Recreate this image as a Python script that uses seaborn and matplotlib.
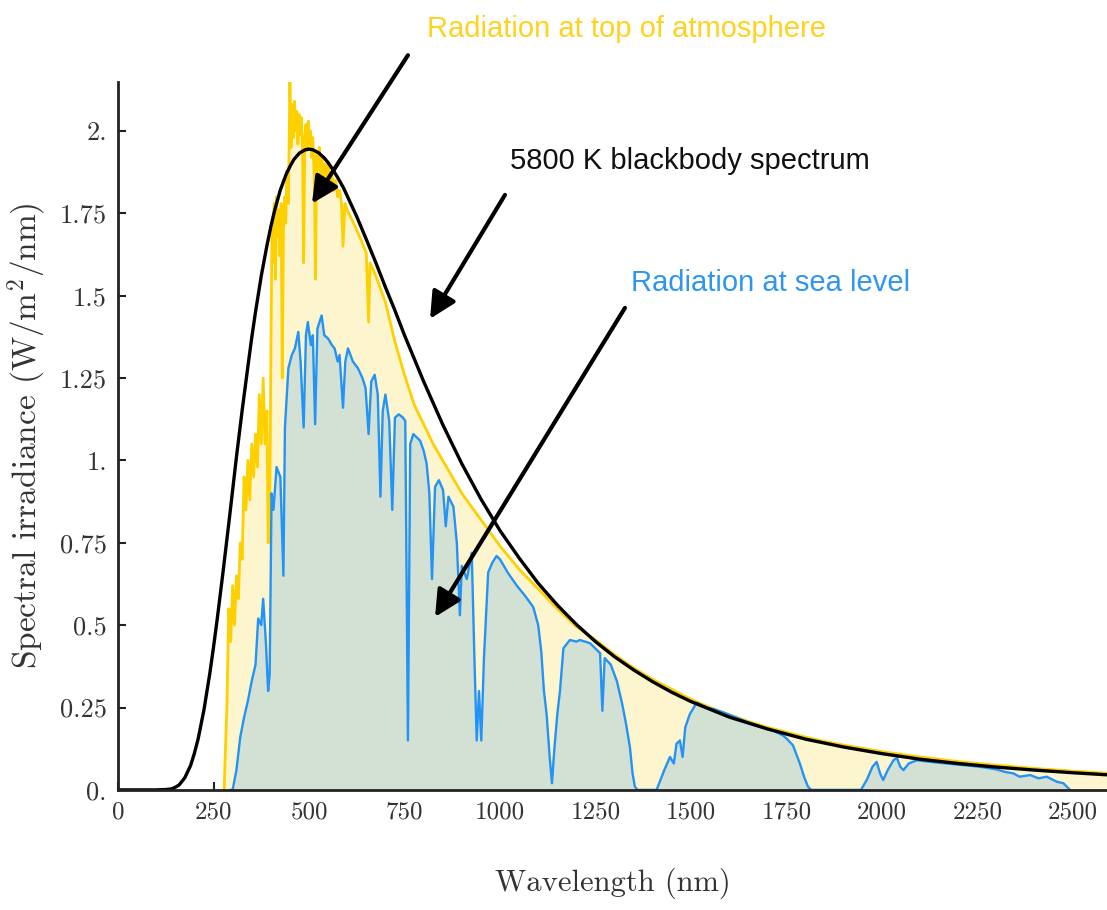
import numpy as np
import pandas as pd
import seaborn as sns
import matplotlib.pyplot as plt

sns.set_style('ticks')
plt.rcParams.update({'mathtext.fontset': 'cm', 'axes.unicode_minus': False})

# 5800 K blackbody curve
bb_wl = [0, 100, 125, 140, 150, 160, 175, 190, 200, 210, 225, 240, 250, 260, 275, 290,
         300, 310, 325, 340, 350, 360, 375, 390, 400, 410, 425, 440, 450, 460, 475, 490,
         500, 510, 525, 540, 550, 560, 575, 590, 600, 625, 650, 675, 700, 725, 750, 775,
         800, 850, 900, 950, 1000, 1050, 1100, 1150, 1200, 1250, 1300, 1350, 1400, 1450,
         1500, 1600, 1700, 1800, 1900, 2000, 2100, 2200, 2300, 2400, 2500, 2600]
bb_val = [0.0, 0.0, 0.001, 0.003, 0.008, 0.015, 0.037, 0.074, 0.111, 0.156, 0.243, 0.351,
          0.433, 0.521, 0.662, 0.809, 0.909, 1.010, 1.152, 1.285, 1.372, 1.451, 1.560,
          1.653, 1.709, 1.759, 1.821, 1.868, 1.892, 1.913, 1.933, 1.943, 1.945, 1.943,
          1.934, 1.918, 1.904, 1.887, 1.859, 1.828, 1.803, 1.740, 1.671, 1.600, 1.526,
          1.455, 1.380, 1.310, 1.240, 1.109, 0.990, 0.883, 0.787, 0.704, 0.627, 0.561,
          0.502, 0.450, 0.404, 0.364, 0.328, 0.296, 0.268, 0.221, 0.185, 0.154, 0.130,
          0.110, 0.093, 0.080, 0.069, 0.060, 0.052, 0.045]

# radiation at top of atmosphere
toa_wl = [278, 280, 285, 290, 295, 300, 305, 310, 315, 320, 325, 330, 335, 340, 345, 350,
          355, 360, 365, 370, 375, 380, 385, 390, 393, 397, 400, 403, 406, 409, 412, 415,
          418, 421, 424, 427, 430, 433, 436, 439, 442, 446, 450, 453, 456, 459, 462, 465,
          468, 471, 474, 477, 480, 483, 486, 489, 492, 495, 498, 501, 504, 507, 510, 514,
          517, 520, 524, 527, 530, 534, 538, 542, 546, 550, 555, 560, 565, 570, 575, 580,
          585, 589, 594, 600, 625, 650, 656, 660, 675, 700, 725, 750, 775, 800, 825, 850,
          875, 900, 925, 950, 975, 1000, 1050, 1100, 1150, 1200, 1250, 1300, 1350, 1400,
          1450, 1500, 1550, 1600, 1650, 1700, 1750, 1800, 1850, 1900, 1950, 2000, 2100,
          2200, 2300, 2400, 2500, 2600]
toa_val = [0.0, 0.08, 0.25, 0.55, 0.45, 0.62, 0.50, 0.65, 0.58, 0.75, 0.70, 0.95, 0.85,
           1.00, 0.88, 1.05, 0.95, 1.08, 0.98, 1.20, 1.05, 1.25, 1.05, 1.15, 0.75, 0.80,
           1.30, 1.70, 1.60, 1.78, 1.55, 1.80, 1.68, 1.76, 1.62, 1.78, 1.25, 1.70, 1.80,
           1.72, 1.88, 1.78, 2.15, 1.95, 2.08, 1.98, 2.09, 2.00, 2.06, 1.96, 2.05, 1.99,
           2.04, 1.95, 1.60, 1.98, 2.02, 1.94, 2.03, 1.96, 2.00, 1.92, 1.98, 1.85, 1.55,
           1.93, 1.88, 1.95, 1.87, 1.92, 1.86, 1.90, 1.84, 1.90, 1.84, 1.87, 1.82, 1.85,
           1.80, 1.82, 1.78, 1.65, 1.78, 1.76, 1.70, 1.63, 1.42, 1.60, 1.56, 1.48, 1.36,
           1.26, 1.17, 1.11, 1.05, 1.00, 0.95, 0.90, 0.86, 0.82, 0.78, 0.74, 0.67, 0.61,
           0.55, 0.495, 0.455, 0.41, 0.37, 0.335, 0.305, 0.275, 0.25, 0.228, 0.208, 0.19,
           0.175, 0.16, 0.147, 0.136, 0.126, 0.116, 0.10, 0.086, 0.075, 0.065, 0.057, 0.05]

# radiation at sea level
sea_wl = [295, 300, 310, 320, 330, 340, 350, 360, 367, 375, 380, 387, 393, 397, 402, 407,
          415, 425, 433, 437, 446, 455, 463, 472, 478, 486, 492, 497, 505, 510, 516, 522,
          533, 540, 550, 560, 567, 575, 580, 589, 595, 602, 615, 628, 640, 648, 656, 663,
          672, 680, 687, 693, 700, 710, 718, 725, 735, 746, 752, 759, 765, 773, 791, 800,
          808, 815, 822, 830, 840, 851, 858, 865, 878, 887, 895, 900, 913, 926, 933, 939,
          945, 951, 958, 969, 980, 991, 1000, 1020, 1044, 1065, 1087, 1100, 1108, 1115,
          1122, 1130, 1136, 1142, 1150, 1157, 1166, 1183, 1200, 1209, 1236, 1262, 1268,
          1274, 1290, 1306, 1320, 1330, 1340, 1347, 1353, 1360, 1410, 1420, 1430, 1445,
          1455, 1462, 1471, 1478, 1485, 1497, 1515, 1541, 1560, 1585, 1600, 1628, 1650,
          1672, 1700, 1715, 1741, 1751, 1767, 1785, 1796, 1806, 1815, 1945, 1960, 1975,
          1986, 1995, 2003, 2015, 2030, 2039, 2048, 2056, 2070, 2091, 2126, 2170, 2213,
          2257, 2300, 2320, 2344, 2360, 2388, 2410, 2431, 2457, 2475, 2492]
sea_val = [0.0, 0.0, 0.06, 0.16, 0.22, 0.27, 0.33, 0.38, 0.52, 0.50, 0.58, 0.45, 0.30,
           0.35, 0.90, 0.85, 0.98, 0.95, 0.65, 1.10, 1.28, 1.32, 1.34, 1.39, 1.30, 1.10,
           1.38, 1.42, 1.35, 1.38, 1.11, 1.40, 1.44, 1.38, 1.37, 1.35, 1.34, 1.30, 1.32,
           1.16, 1.30, 1.34, 1.30, 1.28, 1.25, 1.22, 1.08, 1.24, 1.26, 1.20, 0.89, 1.15,
           1.20, 1.12, 0.85, 1.13, 1.14, 1.13, 1.12, 0.15, 1.05, 1.08, 1.06, 1.03, 0.99,
           0.90, 0.64, 0.92, 0.94, 0.91, 0.80, 0.89, 0.86, 0.75, 0.53, 0.68, 0.64, 0.72,
           0.40, 0.15, 0.30, 0.15, 0.40, 0.66, 0.69, 0.71, 0.70, 0.66, 0.62, 0.59, 0.555,
           0.50, 0.42, 0.30, 0.23, 0.10, 0.02, 0.12, 0.23, 0.30, 0.43, 0.455, 0.45, 0.455,
           0.445, 0.415, 0.24, 0.40, 0.38, 0.33, 0.26, 0.20, 0.13, 0.05, 0.01, 0.0, 0.0,
           0.03, 0.06, 0.10, 0.08, 0.14, 0.15, 0.10, 0.19, 0.23, 0.265, 0.25, 0.245, 0.235,
           0.228, 0.215, 0.205, 0.197, 0.185, 0.18, 0.165, 0.155, 0.135, 0.08, 0.04, 0.01,
           0.0, 0.0, 0.03, 0.07, 0.085, 0.05, 0.03, 0.06, 0.09, 0.097, 0.07, 0.06, 0.08,
           0.09, 0.085, 0.08, 0.075, 0.07, 0.062, 0.055, 0.05, 0.04, 0.045, 0.035, 0.04,
           0.025, 0.02, 0.0]

x_ticks = [0, 250, 500, 750, 1000, 1250, 1500, 1750, 2000, 2250, 2500]
y_ticks = [0, 0.25, 0.5, 0.75, 1.0, 1.25, 1.5, 1.75, 2.0]
y_ticklabels = ['0.', '0.25', '0.5', '0.75', '1.', '1.25', '1.5', '1.75', '2.']

bb = pd.DataFrame({'wl': bb_wl, 'val': bb_val})
toa = pd.DataFrame({'wl': toa_wl, 'val': toa_val})
sea = pd.DataFrame({'wl': sea_wl, 'val': sea_val})

yellow = '#FFD000'
blue = '#2393F5'

fig = plt.figure(figsize=(11.07, 9.10), dpi=100)
ax = fig.add_axes([0.1066, 0.132, 0.8934, 0.778])

ax.fill_between(toa['wl'], toa['val'], color='#FDF5CE', lw=0)
ax.fill_between(sea['wl'], sea['val'], color='#D3E1D5', lw=0)
sns.lineplot(data=toa, x='wl', y='val', ax=ax, color=yellow, lw=2, estimator=None)
sns.lineplot(data=sea, x='wl', y='val', ax=ax, color=blue, lw=1.7, estimator=None)
sns.lineplot(data=bb, x='wl', y='val', ax=ax, color='black', lw=2.4, estimator=None)

ax.set_xlim(0, 2589)
ax.set_ylim(0, 2.149)
sns.despine(ax=ax)
for s in ['left', 'bottom']:
    ax.spines[s].set_linewidth(2)
    ax.spines[s].set_color('#222222')

ax.set_xticks(x_ticks)
ax.set_xticklabels([str(t) for t in x_ticks], fontfamily='cmr10', fontsize=18, color='#333333')
ax.set_yticks(y_ticks)
ax.set_yticklabels(y_ticklabels, fontfamily='cmr10', fontsize=19, color='#333333')
ax.tick_params(direction='in', length=6, width=1.5, color='#222222', pad=8)

ax.set_xlabel('Wavelength (nm)', fontfamily='cmr10', fontsize=22, color='#333333', labelpad=32)
ax.set_ylabel('Spectral irradiance (W/m$^2$/nm)', fontfamily='cmr10', fontsize=24,
              color='#333333', labelpad=8)

tfont = dict(family='Liberation Sans', fontsize=21, ha='center', va='center')
ax.text(1332, 2.31, 'Radiation at top of atmosphere', color='#FFD21F', clip_on=False, **tfont)
ax.text(1497, 1.91, '5800 K blackbody spectrum', color='#111111', **tfont)
ax.text(1707, 1.54, 'Radiation at sea level', color='#2F96F0', **tfont)

arrow = dict(arrowstyle='-|>', lw=3, color='black', mutation_scale=40, shrinkA=0, shrinkB=0)
ax.annotate('', xy=(508, 1.78), xytext=(759, 2.23), arrowprops=arrow, annotation_clip=False)
ax.annotate('', xy=(817, 1.43), xytext=(1013, 1.806), arrowprops=arrow)
ax.annotate('', xy=(830, 0.525), xytext=(1327, 1.463), arrowprops=arrow)

fig.savefig('out.png', dpi=100)
